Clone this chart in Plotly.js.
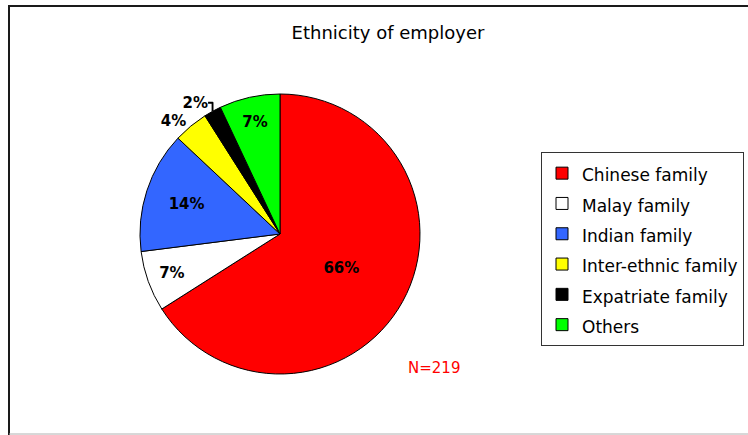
<!DOCTYPE html>
<html>
<head>
<meta charset="utf-8">
<script src="https://cdn.plot.ly/plotly-3.0.1.min.js"></script>
<style>html,body{margin:0;padding:0;background:#fff;}#chart{width:748px;height:435px;}</style>
</head>
<body>
<div id="chart"></div>
<script>
const categories = ["Chinese family", "Malay family", "Indian family", "Inter-ethnic family", "Expatriate family", "Others"];
const percentages = [66, 7, 14, 4, 2, 7];
const sliceColors = ["#FF0000", "#FFFFFF", "#3366FF", "#FFFF00", "#000000", "#00FF00"];
const labelPositions = ["inside", "inside", "inside", "outside", "outside", "inside"];
const chartTitle = "Ethnicity of employer";
const sampleNote = "N=219";

const W = 748, H = 435;
const cx = 280, cy = 234, r = 140;

// legend row spacing comes from legend.font.size; visible text is drawn smaller
const legendLabels = categories.map(c => '<span style="font-size:17px">' + c + '</span>');

const trace = {
  type: "pie",
  labels: legendLabels,
  values: percentages,
  sort: false,
  direction: "clockwise",
  rotation: 0,
  marker: { colors: sliceColors, line: { color: "#000000", width: 1 } },
  texttemplate: "%{value}%",
  textinfo: "text",
  textposition: labelPositions,
  insidetextorientation: "horizontal",
  textfont: { family: "DejaVu Sans", size: 15, color: "#000000", weight: "bold" },
  outsidetextfont: { family: "DejaVu Sans", size: 15, color: "#000000", weight: "bold" },
  insidetextfont: { family: "DejaVu Sans", size: 15, color: "#000000", weight: "bold" },
  hoverinfo: "label+percent",
  domain: { x: [(cx - r) / W, (cx + r) / W], y: [(H - cy - r) / H, (H - cy + r) / H] }
};

const layout = {
  width: W, height: H,
  margin: { l: 0, r: 0, t: 0, b: 0, pad: 0, autoexpand: false },
  paper_bgcolor: "#FFFFFF",
  plot_bgcolor: "#FFFFFF",
  font: { family: "DejaVu Sans", size: 14, color: "#000000" },
  title: {
    text: chartTitle,
    x: 388 / W, xanchor: "center", xref: "paper",
    y: 1 - 33 / H, yanchor: "middle", yref: "paper",
    font: { family: "DejaVu Sans", size: 18, color: "#000000" }
  },
  showlegend: true,
  legend: {
    x: 541 / W, xanchor: "left",
    y: 1 - 152 / H, yanchor: "top",
    bgcolor: "#FFFFFF",
    bordercolor: "#333333",
    borderwidth: 1,
    font: { family: "DejaVu Sans", size: 21, color: "#000000" },
    traceorder: "normal"
  },
  annotations: [{
    text: sampleNote, showarrow: false,
    xref: "paper", yref: "paper",
    x: 434 / W, y: 1 - 368 / H, xanchor: "center", yanchor: "middle",
    font: { family: "DejaVu Sans", size: 15, color: "#FF0000" }
  }],
  shapes: [
    { type: "line", xref: "paper", yref: "paper", x0: 9 / W, x1: 1, y0: 1 - 6 / H, y1: 1 - 6 / H, line: { color: "#1a1a1a", width: 2 } },
    { type: "line", xref: "paper", yref: "paper", x0: 9 / W, x1: 9 / W, y0: 1 - 5 / H, y1: 0, line: { color: "#1a1a1a", width: 2 } },
    { type: "line", xref: "paper", yref: "paper", x0: 9 / W, x1: 1, y0: 1 - 434 / H, y1: 1 - 434 / H, line: { color: "#b0b0b0", width: 1 } }
  ]
};

Plotly.newPlot("chart", [trace], layout, { staticPlot: true, displayModeBar: false });
</script>
</body>
</html>
